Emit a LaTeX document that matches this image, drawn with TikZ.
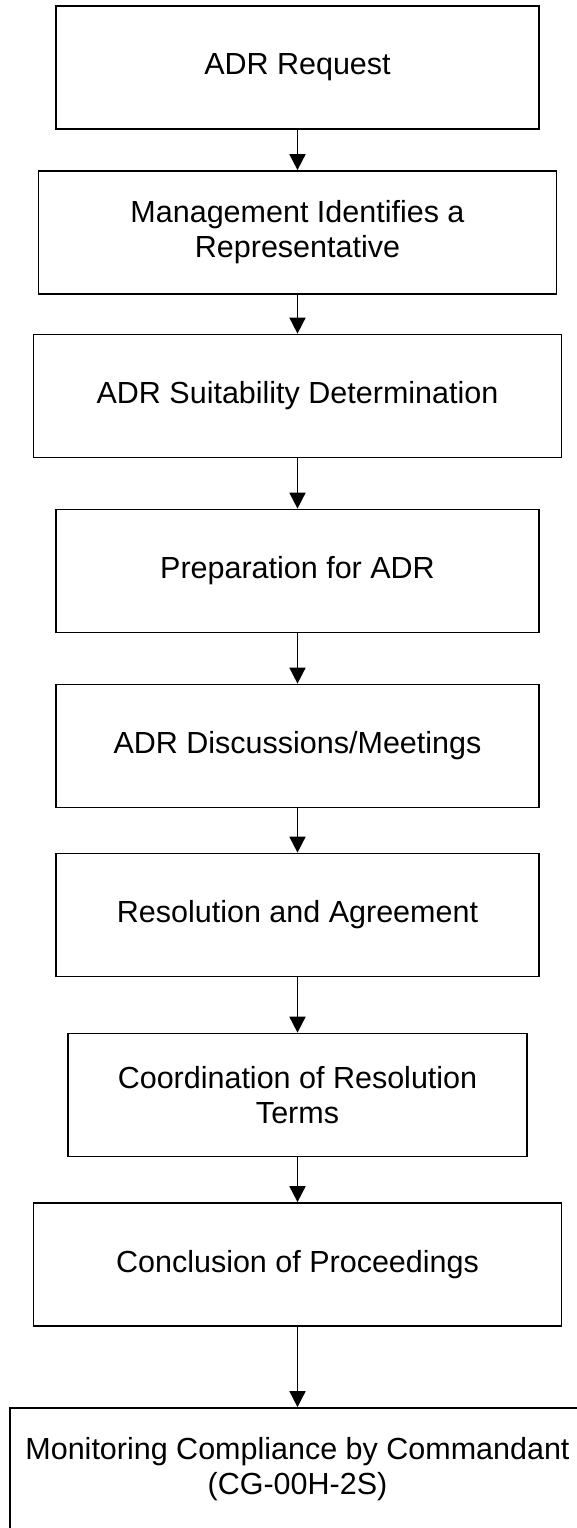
\documentclass[tikz,border=0pt]{standalone}
\usepackage{fontspec}
\setmainfont{Liberation Sans}
\usetikzlibrary{arrows.meta}

\begin{document}
\begin{tikzpicture}[x=1pt, y=-1pt, >={Triangle[length=16pt, width=16pt]},
	box/.style={draw, line width=1.7pt, minimum height=123pt, inner sep=0pt, align=center, font=\fontsize{30.5}{35}\selectfont}]
	\useasboundingbox (0, 0) rectangle (576, 1528);
	% nodes
	\node[box, minimum width=483pt] (request) at (297.5, 67.5) {ADR Request};
	\node[box, minimum width=518pt] (rep) at (297.5, 232.5) {Management Identifies a\\Representative};
	\node[box, minimum width=528pt] (suit) at (297.5, 396) {ADR Suitability Determination};
	\node[box, minimum width=483pt] (prep) at (297.5, 571) {Preparation for ADR};
	\node[box, minimum width=483pt] (meet) at (297.5, 746) {ADR Discussions/Meetings};
	\node[box, minimum width=483pt] (agree) at (297.5, 915) {Resolution and Agreement};
	\node[box, minimum width=459pt] (coord) at (297.5, 1095) {Coordination of Resolution\\Terms};
	\node[box, minimum width=528pt] (concl) at (297.5, 1264.5) {Conclusion of Proceedings};
	\node[box, minimum width=575pt] (monitor) at (297.5, 1469.5) {Monitoring Compliance by Commandant\\(CG-00H-2S)};

	% arrows
	\draw[->, line width=1.7pt]
	(request) edge (rep)
	(rep) edge (suit)
	(suit) edge (prep)
	(prep) edge (meet)
	(meet) edge (agree)
	(agree) edge (coord)
	(coord) edge (concl)
	(concl) edge (monitor);
\end{tikzpicture}
\end{document}
